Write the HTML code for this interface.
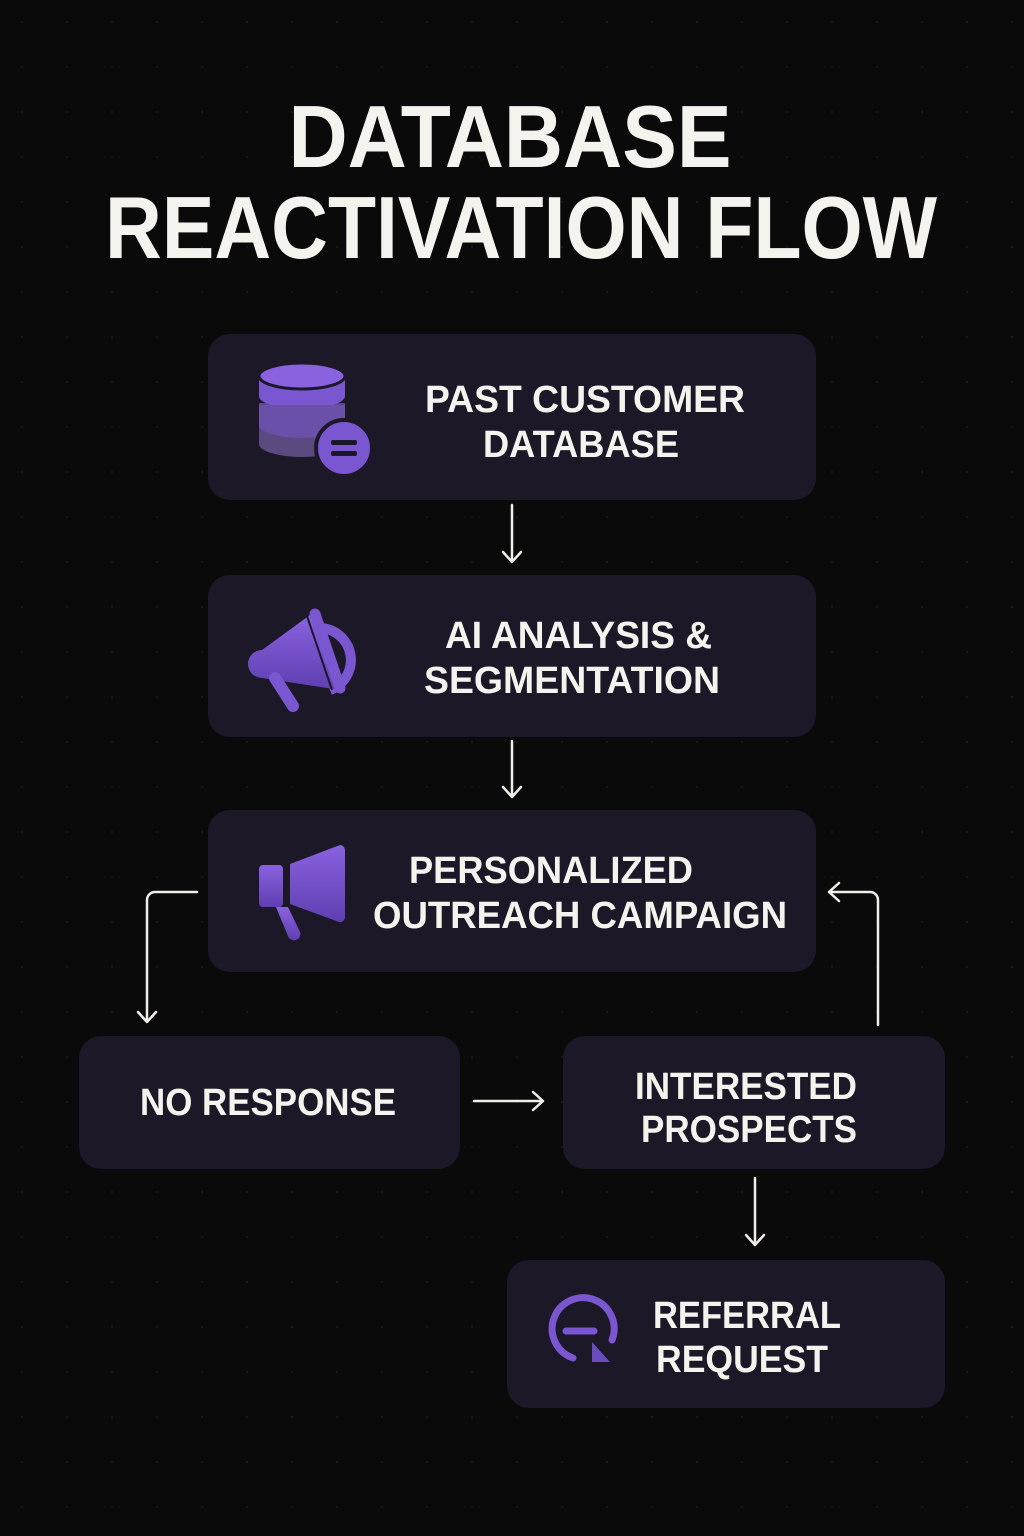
<!DOCTYPE html>
<html><head><meta charset="utf-8"><style>
html,body{margin:0;padding:0;background:#0a0a0b;}
svg{display:block}
text{font-family:"Liberation Sans",sans-serif;font-weight:bold;fill:#f5f3ee}
</style></head><body>
<svg width="1024" height="1536" viewBox="0 0 1024 1536" xmlns="http://www.w3.org/2000/svg">
<defs>
<pattern id="dots" width="45" height="45" patternUnits="userSpaceOnUse"><circle cx="22" cy="22" r="1" fill="#1a1a1e"/></pattern>
<linearGradient id="pg" x1="0" y1="0" x2="0" y2="1"><stop offset="0" stop-color="#8a62e0"/><stop offset="1" stop-color="#5e3fb0"/></linearGradient>
</defs>
<rect width="1024" height="1536" fill="#0a0a0b"/>
<rect width="1024" height="1536" fill="url(#dots)"/>

<text x="510" y="167" font-size="88" text-anchor="middle" textLength="443" lengthAdjust="spacingAndGlyphs">DATABASE</text>
<text x="521" y="258" font-size="88" text-anchor="middle" textLength="832" lengthAdjust="spacingAndGlyphs">REACTIVATION FLOW</text>

<g fill="#1c1827">
<rect x="208" y="334" width="608" height="166" rx="22"/>
<rect x="208" y="575" width="608" height="162" rx="22"/>
<rect x="208" y="810" width="608" height="162" rx="22"/>
<rect x="79" y="1036" width="381" height="133" rx="22"/>
<rect x="563" y="1036" width="382" height="133" rx="22"/>
<rect x="507" y="1260" width="438" height="148" rx="22"/>
</g>

<g font-size="38">
<text x="425" y="412" textLength="320" lengthAdjust="spacingAndGlyphs">PAST CUSTOMER</text>
<text x="483" y="457" textLength="196" lengthAdjust="spacingAndGlyphs">DATABASE</text>
<text x="445" y="648" textLength="267" lengthAdjust="spacingAndGlyphs">AI ANALYSIS &amp;</text>
<text x="424" y="693" textLength="296" lengthAdjust="spacingAndGlyphs">SEGMENTATION</text>
<text x="409" y="883" textLength="284" lengthAdjust="spacingAndGlyphs">PERSONALIZED</text>
<text x="373" y="928" textLength="414" lengthAdjust="spacingAndGlyphs">OUTREACH CAMPAIGN</text>
<text x="140" y="1115" textLength="256" lengthAdjust="spacingAndGlyphs">NO RESPONSE</text>
<text x="635" y="1099" textLength="222" lengthAdjust="spacingAndGlyphs">INTERESTED</text>
<text x="641" y="1142" textLength="216" lengthAdjust="spacingAndGlyphs">PROSPECTS</text>
<text x="653" y="1328" textLength="188" lengthAdjust="spacingAndGlyphs">REFERRAL</text>
<text x="656" y="1372" textLength="172" lengthAdjust="spacingAndGlyphs">REQUEST</text>
</g>

<!-- DB icon -->
<g>
<path d="M259 378 v66 a43 13 0 0 0 86 0 v-66z" fill="#5a4a80"/>
<rect x="259" y="395" width="86" height="8" fill="#1c1827"/>
<path d="M259 378 v18 a43 13 0 0 0 86 0 v-18z" fill="#7a56d0"/>
<ellipse cx="302" cy="376" rx="43" ry="13" fill="#8a62e0" stroke="#1c1827" stroke-width="3"/>
<path d="M259 405 v20 a43 13 0 0 0 86 0 v-20" fill="#6a50a8"/>
<circle cx="344" cy="448" r="28" fill="#7a56d0" stroke="#1c1827" stroke-width="4"/>
<rect x="331" y="440" width="26" height="5" rx="2" fill="#1c1827"/>
<rect x="331" y="451" width="26" height="5" rx="2" fill="#1c1827"/>
</g>

<!-- megaphone 1 -->
<g>
<path d="M320 628 a32 32 0 0 1 10 62" fill="none" stroke="#7a56d0" stroke-width="10"/>
<path d="M310 615 L262 650 a10 10 0 0 0 0 28 L340 690 z" fill="url(#pg)"/>
<path d="M275 678 l18 28" stroke="#7a56d0" stroke-width="12" stroke-linecap="round"/>
<path d="M315 614 L340 688" stroke="#7a56d0" stroke-width="11" stroke-linecap="round"/>
<path d="M315 614 L340 688" stroke="#1c1827" stroke-width="2" transform="translate(-8 2)"/>
</g>

<!-- megaphone 2 -->
<g fill="url(#pg)">
<rect x="259" y="865" width="24" height="42" rx="4"/>
<path d="M290 864 L340 845 a5 5 0 0 1 5 5 v68 a5 5 0 0 1 -6 4 L290 904 z"/>
<path d="M276 907 l12 0 l12 25 a6 6 0 0 1 -12 4 z"/>
</g>

<!-- referral icon -->
<g fill="none" stroke="#7a56d0" stroke-width="7" stroke-linecap="round">
<path d="M573 1358 A31 31 0 1 1 612 1340"/>
<path d="M566 1331 h28"/>
</g>
<path d="M592 1342 v20 h18 z" fill="#6a4bc0"/>

<!-- connectors -->
<g stroke="#f0eee8" stroke-width="2.5" fill="none" stroke-linecap="round" stroke-linejoin="round">
<path d="M512 505 V562 M503 552 L512 562 L521 552"/>
<path d="M512 741 V797 M503 787 L512 797 L521 787"/>
<path d="M197 892 H155 a8 8 0 0 0 -8 8 V1022 M138 1012 L147 1022 L156 1012"/>
<path d="M878 1025 V900 a8 8 0 0 0 -8 -8 H829 M839 883 L829 892 L839 901"/>
<path d="M474 1101 H543 M533 1092 L543 1101 L533 1110"/>
<path d="M755 1178 V1245 M746 1235 L755 1245 L764 1235"/>
</g>
</svg>
</body></html>
